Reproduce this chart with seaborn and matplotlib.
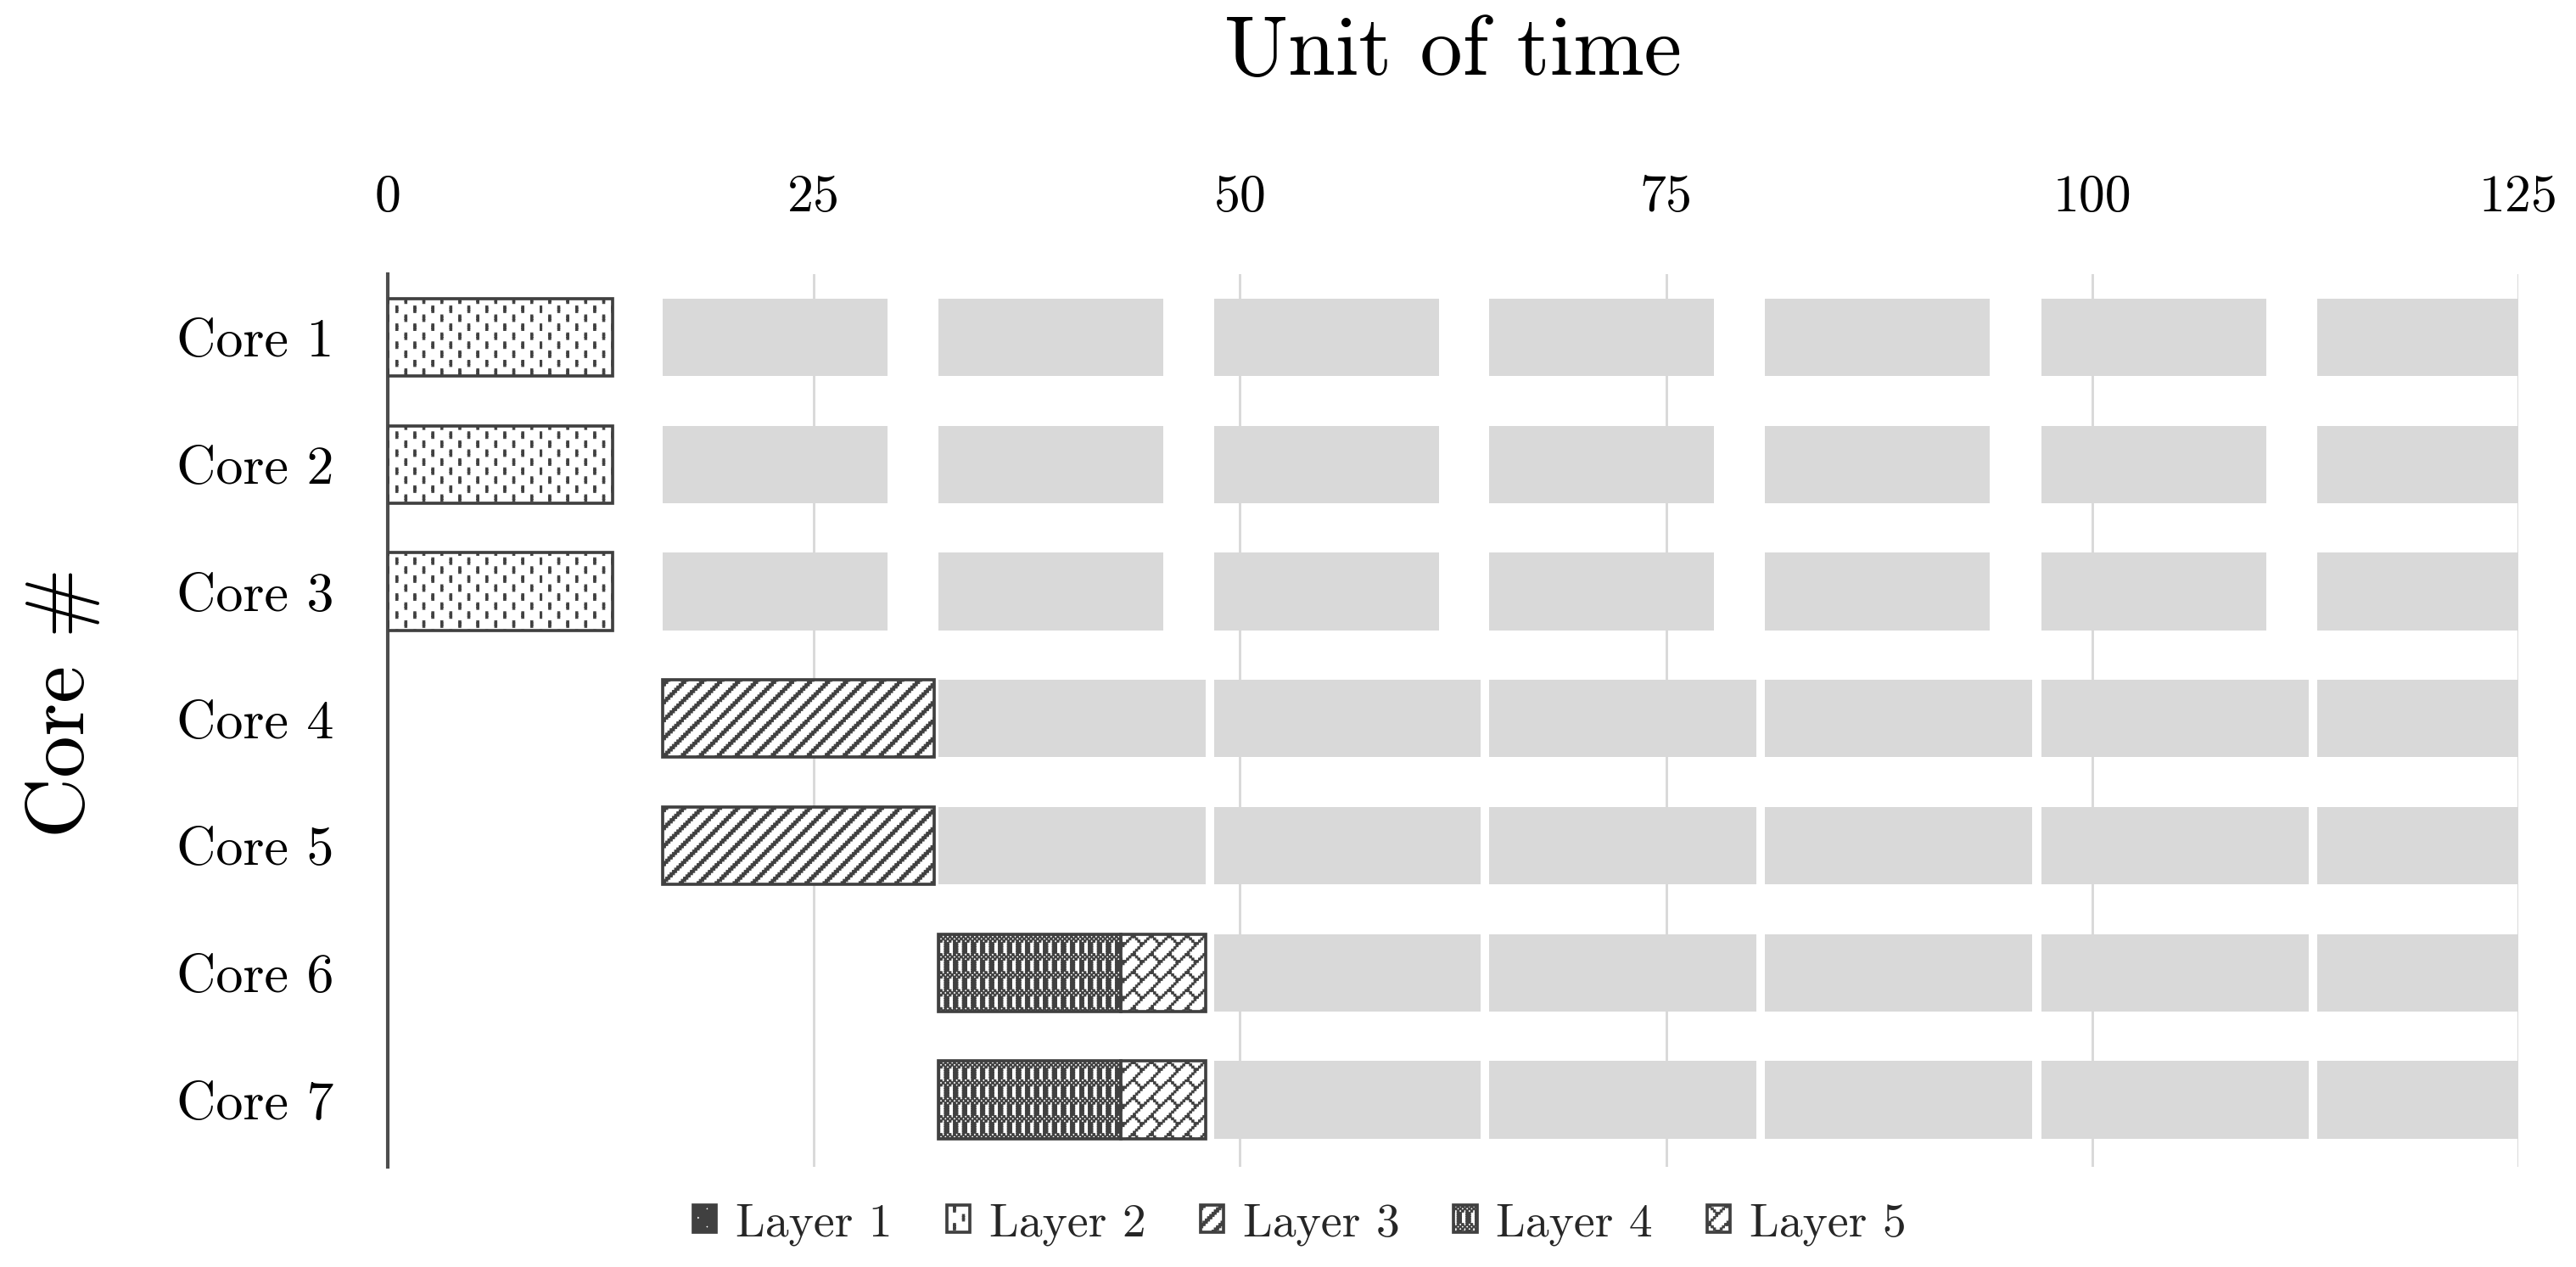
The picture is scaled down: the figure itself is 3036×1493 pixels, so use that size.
import warnings
warnings.filterwarnings("ignore")

import numpy as np
import pandas as pd
import matplotlib
matplotlib.use("Agg")
import matplotlib.pyplot as plt
import matplotlib.hatch as mhatch
from matplotlib.path import Path
from matplotlib.patches import Patch
import seaborn as sns

# ---------------------------------------------------------------- data
cores = ["Core 1", "Core 2", "Core 3", "Core 4", "Core 5", "Core 6", "Core 7"]
layers = ["Layer 1", "Layer 2", "Layer 3", "Layer 4", "Layer 5"]
x_ticks = [0, 25, 50, 75, 100, 125]

# patterned (busy) segments
busy_core = ["Core 1", "Core 2", "Core 3", "Core 4", "Core 5",
             "Core 6", "Core 6", "Core 7", "Core 7"]
busy_layer = ["Layer 2", "Layer 2", "Layer 2", "Layer 3", "Layer 3",
              "Layer 4", "Layer 5", "Layer 4", "Layer 5"]
busy_start = [0.0, 0.0, 0.0, 16.15, 16.15, 32.3, 43.0, 32.3, 43.0]
busy_end = [13.2, 13.2, 13.2, 32.05, 32.05, 43.0, 48.0, 43.0, 48.0]

# grey segments
grey_start_c1_3 = [16.13, 32.3, 48.5, 64.6, 80.8, 97.0, 113.2]
grey_end_c1_3 = [29.3, 45.5, 61.7, 77.8, 94.0, 110.2, 125.0]
grey_start_c4_5 = [32.3, 48.5, 64.6, 80.8, 97.0, 113.2]
grey_end_c4_5 = [48.0, 64.1, 80.3, 96.5, 112.7, 125.0]
grey_start_c6_7 = [48.5, 64.6, 80.8, 97.0, 113.2]
grey_end_c6_7 = [64.1, 80.3, 96.5, 112.7, 125.0]

busy = pd.DataFrame({"core": busy_core, "layer": busy_layer,
                     "start": busy_start, "end": busy_end})
grey_rows = []
for group, starts, ends in [(cores[0:3], grey_start_c1_3, grey_end_c1_3),
                            (cores[3:5], grey_start_c4_5, grey_end_c4_5),
                            (cores[5:7], grey_start_c6_7, grey_end_c6_7)]:
    for c in group:
        for s, e in zip(starts, ends):
            grey_rows.append((c, s, e))
grey = pd.DataFrame(grey_rows, columns=["core", "start", "end"])

# ---------------------------------------------------------------- pattern fills (style)
DPI = 212
REPS = 10  # 8x8 pattern cells per hatch tile
PATTERN_ROWS = {
    "Layer 1": ["########", "##.#####", "########", "########",
                "########", "######.#", "########", "########"],
    "Layer 2": ["#.......", "#.......", "#.......", "........",
                "....#...", "....#...", "....#...", "........"],
    "Layer 3": ["".join("#" if (x + r) % 8 in (6, 7) else "." for x in range(8))
                for r in range(8)],
    "Layer 4": ["#.#.#.#.", ".#.#.#.#", "#.#.#.#.", "##..##..",
                "##..##..", "##..##..", "##..##..", "##..##.."],
    "Layer 5": ["#......#", ".#....#.", "..#..#..", "...##...",
                "...#....", "..#.....", ".#......", "#......."],
}
HATCH_CHARS = {"Layer 1": "1", "Layer 2": "2", "Layer 3": "3",
               "Layer 4": "4", "Layer 5": "5"}


def _bitmap_path(rows):
    n = 8 * REPS
    s = 1.0 / n
    verts, codes = [], []
    for ty in range(REPS):
        for r, row in enumerate(rows):
            y1 = 1.0 - (ty * 8 + r) * s
            y0 = y1 - s
            c = 0
            while c < 8:
                if row[c] != "#":
                    c += 1
                    continue
                c0 = c
                while c < 8 and row[c] == "#":
                    c += 1
                for tx in range(REPS):
                    x0 = (tx * 8 + c0) * s
                    x1 = (tx * 8 + c) * s
                    verts += [(x0, y0), (x1, y0), (x1, y1), (x0, y1), (x0, y0)]
                    codes += [Path.MOVETO, Path.LINETO, Path.LINETO,
                              Path.LINETO, Path.CLOSEPOLY]
    return np.array(verts, float), np.array(codes, Path.code_type)


def _make_hatch(char, rows):
    v, c = _bitmap_path(rows)

    class BitmapHatch(mhatch.HatchPatternBase):
        def __init__(self, hatch, density):
            self.num_vertices = len(v) if (hatch and char in hatch) else 0

        def set_vertices_and_codes(self, vertices, codes):
            vertices[:] = v
            codes[:] = c

    return BitmapHatch


for lay in layers:
    mhatch._hatch_types.append(_make_hatch(HATCH_CHARS[lay], PATTERN_ROWS[lay]))

# ---------------------------------------------------------------- style
sns.set_theme(style="white")
plt.rcParams["font.family"] = ["cmr10", "DejaVu Serif"]
plt.rcParams["axes.formatter.use_mathtext"] = True
plt.rcParams["mathtext.fontset"] = "cm"
plt.rcParams["hatch.linewidth"] = 0.3

W, H = 3036, 1493
fig = plt.figure(figsize=(W / DPI, (H + 0.4) / DPI), dpi=DPI)
ax_l, ax_r, ax_t, ax_b = 457, 2968, 323, 1375
ax = fig.add_axes([ax_l / W, 1 - ax_b / H, (ax_r - ax_l) / W, (ax_b - ax_t) / H])

BAR_H = 0.61
EDGE = "#404040"

ypos = {c: i for i, c in enumerate(cores)}
ax.barh([ypos[c] for c in grey["core"]], grey["end"] - grey["start"],
        left=grey["start"], height=BAR_H, color="#d9d9d9", linewidth=0, zorder=2)

for _, row in busy.iterrows():
    ax.barh(ypos[row["core"]], row["end"] - row["start"], left=row["start"],
            height=BAR_H, facecolor="white", edgecolor=EDGE, linewidth=1.25,
            hatch=HATCH_CHARS[row["layer"]], zorder=3)

ax.set_xlim(0, 125)
ax.set_ylim(6.527, -0.5)

ax.set_xticks(x_ticks)
ax.set_xticklabels([str(t) for t in x_ticks])
ax.xaxis.tick_top()
ax.xaxis.set_label_position("top")
ax.tick_params(axis="x", length=0, pad=21, labelsize=21, labelcolor="black")
ax.set_yticks(range(len(cores)))
ax.set_yticklabels(cores)
ax.tick_params(axis="y", length=0, pad=21.7, labelsize=21.8, labelcolor="black")

ax.grid(axis="x", color="#d9d9d9", linewidth=1.0)
ax.grid(axis="y", visible=False)
ax.set_axisbelow(True)
for sp in ["top", "right", "bottom"]:
    ax.spines[sp].set_visible(False)
ax.spines["left"].set_color("#4d4d4d")
ax.spines["left"].set_linewidth(1.4)

ax.set_xlabel("Unit of time", fontsize=34, labelpad=40, color="black")
ax.set_ylabel("Core #", fontsize=33.5, color="black")
ax.yaxis.set_label_coords(-0.135, 0.52)

handles = [Patch(facecolor="white", edgecolor=EDGE, linewidth=1.25,
                 hatch=HATCH_CHARS[l], label=l) for l in layers]
fig.legend(handles=handles, loc="center", bbox_to_anchor=(0.5046, 0.034),
           ncol=5, frameon=False, fontsize=18.9, handlelength=0.49,
           handleheight=0.49, handletextpad=0.41, columnspacing=1.15,
           borderpad=0, borderaxespad=0)

fig.savefig("out.png", dpi=DPI, facecolor="white")
